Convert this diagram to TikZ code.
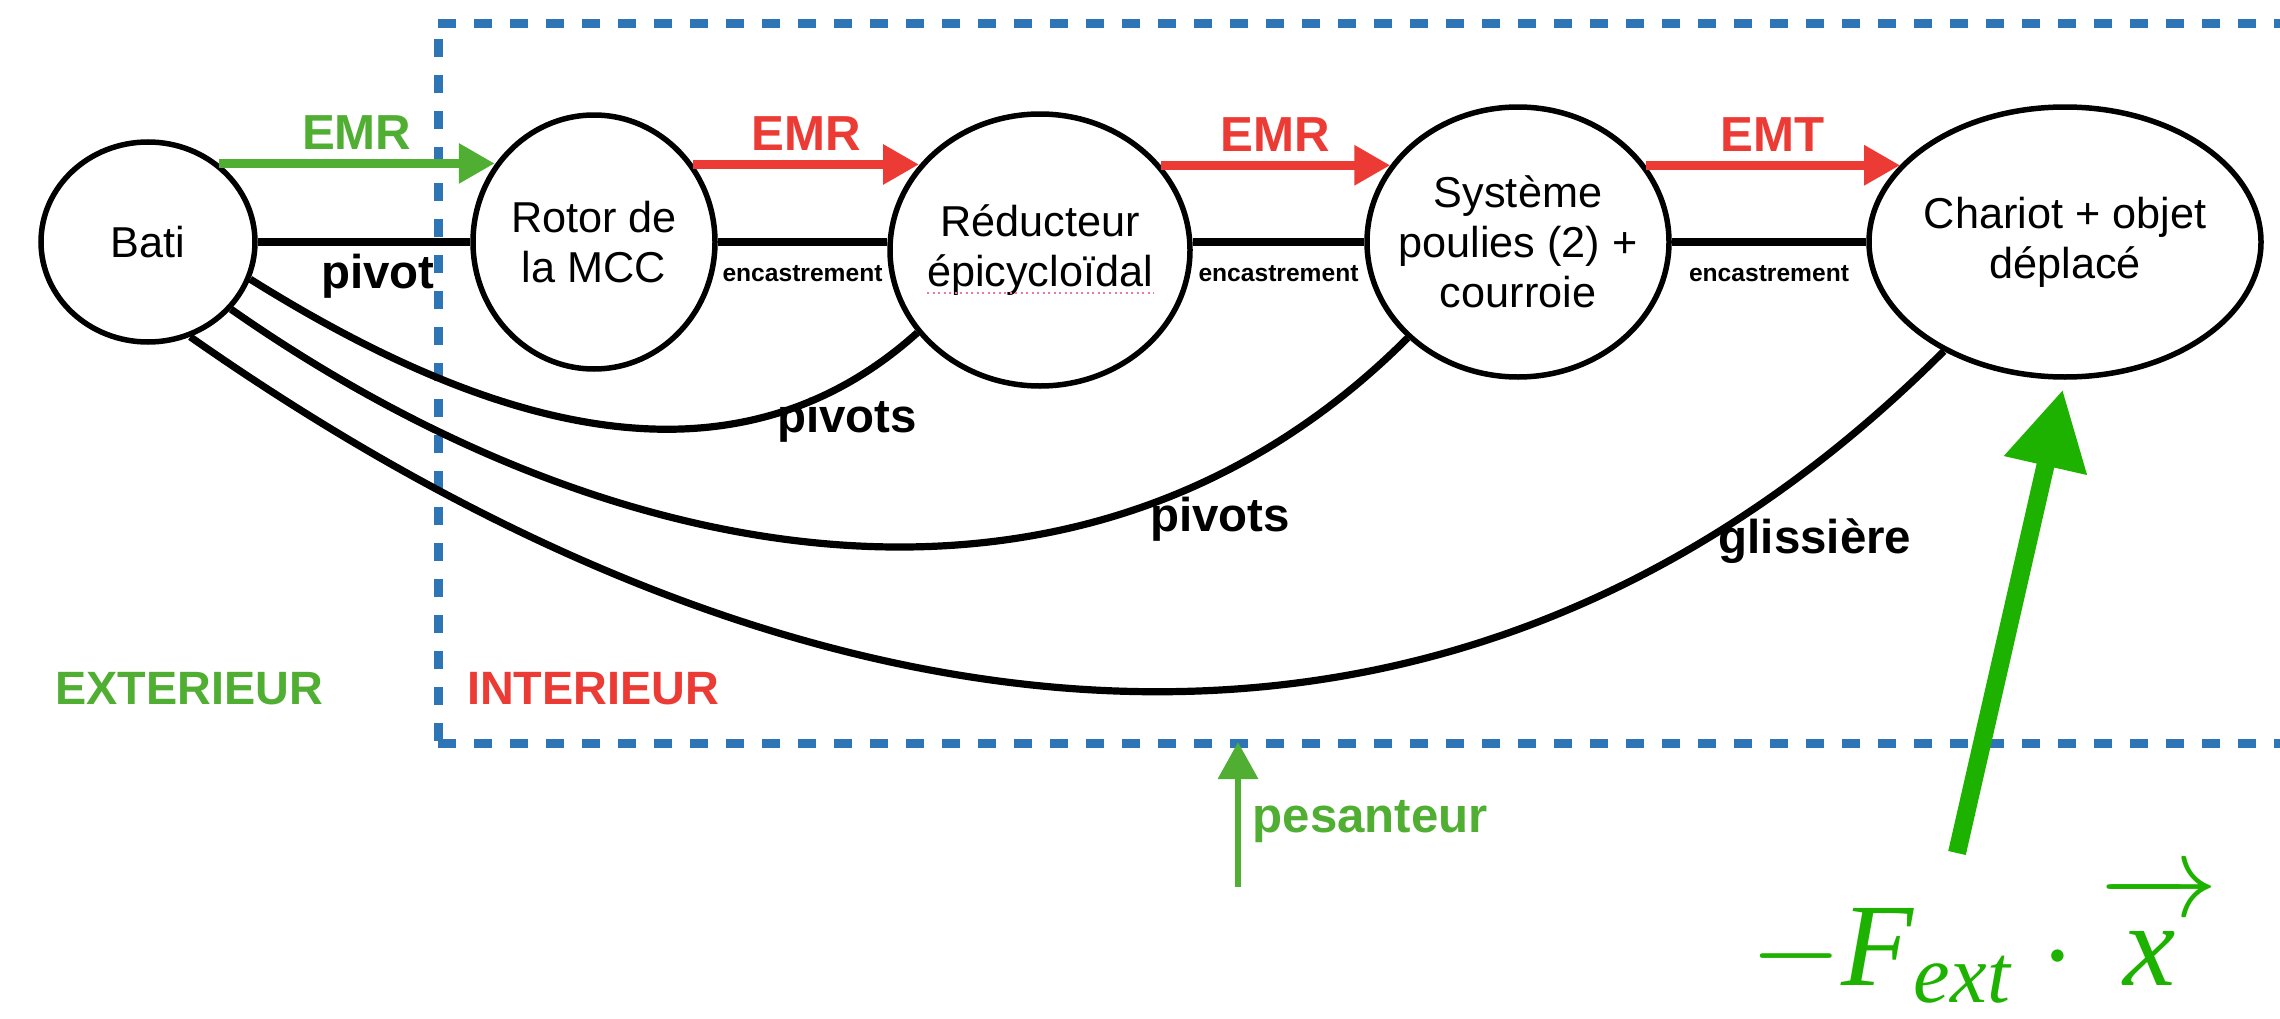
\documentclass[tikz,border=0pt]{standalone}
\usepackage{fontspec}
\setmainfont{Liberation Sans}
\setmathrm{Liberation Serif}
\usetikzlibrary{arrows.meta,shapes.geometric}

\definecolor{bleu}{RGB}{46,117,182}
\definecolor{rouge}{RGB}{236,58,52}
\definecolor{vert}{RGB}{80,175,50}
\definecolor{vertvif}{RGB}{30,178,0}
\definecolor{souligne}{RGB}{235,120,160}

\begin{document}
\begin{tikzpicture}
  \tikzstyle{piece}=[ellipse,draw,line width=0.055cm,align=center,inner xsep=-0.4cm,inner ysep=0pt,font=\fontsize{12.3}{14.2}\selectfont]
  \tikzstyle{liaison}=[line width=0.072cm]
  \tikzstyle{flux}=[line width=0.09cm,-{Triangle[length=0.36cm,width=0.38cm]}]
  \tikzstyle{nomflux}=[midway,anchor=base,yshift=0.14cm,font=\bfseries\fontsize{14}{16}\selectfont]
  \tikzstyle{nomliaison}=[anchor=base,font=\bfseries\fontsize{13.5}{16}\selectfont]
  \tikzstyle{encas}=[midway,anchor=base,yshift=-0.39cm,font=\bfseries\fontsize{7}{8}\selectfont]
  \tikzstyle{frontiere}=[bleu,line width=0.09cm,dash pattern=on 0.18cm off 0.18cm]
  \tikzstyle{zone}=[anchor=base,font=\bfseries\fontsize{13.3}{16}\selectfont]
  \useasboundingbox (0,0) rectangle (22.80,10.18);
  \clip (0,0) rectangle (22.80,10.18);
  % frontiere du systeme isole
  \draw [frontiere] (4.38,9.94) -- (23.20,9.94);
  \draw [frontiere,dash phase=0.21cm] (4.38,9.94) -- (4.38,2.75);
  \draw [frontiere] (4.38,2.75) -- (23.20,2.75);
  % pieces
  \node (bati)    at (1.48,7.76)  [piece,minimum width=2.14cm,minimum height=2.00cm] {Bati};
  \node (rotor)   at (5.94,7.76)  [piece,minimum width=2.42cm,minimum height=2.54cm] {Rotor de\\la MCC};
  \node (reduc)   at (10.40,7.68) [piece,minimum width=3.00cm,minimum height=2.72cm] {Réducteur\\épicycloïdal};
  \node (poulies) at (15.18,7.76) [piece,minimum width=3.02cm,minimum height=2.70cm] {Système\\poulies (2) +\\courroie};
  \node (chariot) at (20.65,7.76) [piece,minimum width=3.92cm,minimum height=2.70cm] {Chariot + objet\\déplacé};
  \draw [souligne,densely dotted,line width=0.02cm] (9.27,7.25) -- (11.54,7.25);
  % liaisons
  \draw [liaison] (bati) -- (rotor) node [nomliaison,midway,yshift=-0.46cm,xshift=0.14cm] {pivot};
  \draw [liaison] (rotor) -- (rotor -| reduc.west) node [encas] {encastrement};
  \draw [liaison] (reduc.east |- poulies) -- (poulies) node [encas] {encastrement};
  \draw [liaison] (poulies) -- (chariot) node [encas] {encastrement};
  \draw [liaison] (bati.-20) to [out=-32,in=-138] (reduc.-146);
  \draw [liaison] (bati.-39) to [out=-35,in=-135] (poulies.-139);
  \draw [liaison] (bati.-66) to [out=-35,in=-135,looseness=1.05] (chariot.-138);
  \node (pivA) at (8.47,5.86) [nomliaison] {pivots};
  \node (pivB) at (12.20,4.87) [nomliaison] {pivots};
  \node (gliss) at (18.15,4.65) [nomliaison] {glissière};
  % flux d'energie
  \draw [flux,vert]  (bati.48) -- (bati.48 -| rotor.142) node [nomflux] {EMR};
  \draw [flux,rouge] (rotor.38) -- (rotor.38 -| reduc.145) node [nomflux] {EMR};
  \draw [flux,rouge] (reduc.35) -- (reduc.35 -| poulies.149) node [nomflux] {EMR};
  \draw [flux,rouge] (poulies.31) -- (poulies.31 -| chariot.155) node [nomflux] {EMT};
  % exterieur / interieur
  \node (ext) at (1.89,3.14) [zone,vert] {EXTERIEUR};
  \node (int) at (5.93,3.14) [zone,rouge] {INTERIEUR};
  % actions exterieures
  \coordinate (pesbas)  at (12.38,1.31);
  \coordinate (pesbout) at (12.38,2.76);
  \draw [vert,line width=0.065cm,-{Triangle[length=0.37cm,width=0.39cm]}] (pesbas) -- (pesbout);
  \node (pes) at (12.52,1.86) [vert,anchor=base west,inner sep=0pt,font=\bfseries\fontsize{14}{16}\selectfont] {pesanteur};
  \coordinate (fbas) at (19.57,1.65);
  \draw [vertvif,line width=0.18cm,-{Triangle[length=0.78cm,width=0.80cm]},shorten >=0.1cm] (fbas) -- (chariot.south);
  \node (force) at (17.48,0.33) [vertvif,anchor=base west,inner sep=0pt,scale=3.35,transform shape] {$-\mathit{F}_{\mathit{ext}}\cdot\overrightarrow{\mathit{x}\vphantom{F}\,}$};
\end{tikzpicture}
\end{document}
